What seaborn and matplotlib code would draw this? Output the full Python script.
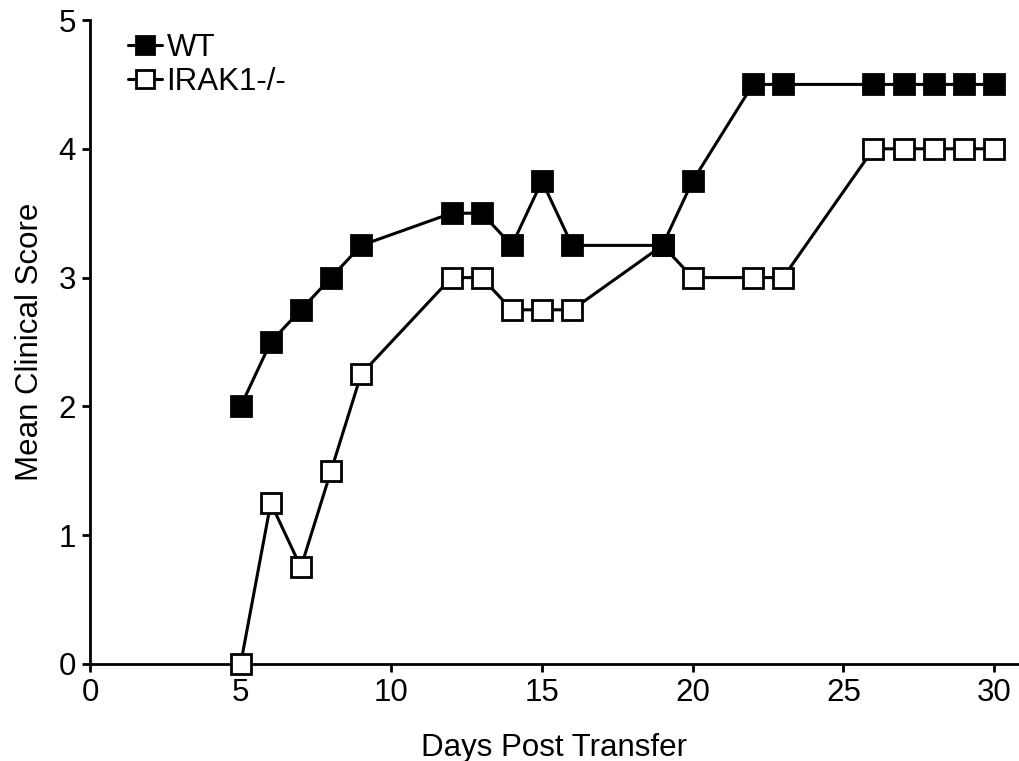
import matplotlib
matplotlib.use("Agg")
import matplotlib.pyplot as plt
import seaborn as sns
import pandas as pd

days = [5, 6, 7, 8, 9, 12, 13, 14, 15, 16, 19, 20, 22, 23, 26, 27, 28, 29, 30]
wt_score = [2.0, 2.5, 2.75, 3.0, 3.25, 3.5, 3.5, 3.25, 3.75, 3.25, 3.25, 3.75,
            4.5, 4.5, 4.5, 4.5, 4.5, 4.5, 4.5]
irak1_score = [0.0, 1.25, 0.75, 1.5, 2.25, 3.0, 3.0, 2.75, 2.75, 2.75, 3.25, 3.0,
               3.0, 3.0, 4.0, 4.0, 4.0, 4.0, 4.0]
groups = ["WT", "IRAK1-/-"]
x_ticks = [0, 5, 10, 15, 20, 25, 30]
y_ticks = [0, 1, 2, 3, 4, 5]

df = pd.DataFrame({
    "Day": days * 2,
    "Score": wt_score + irak1_score,
    "Group": [groups[0]] * len(days) + [groups[1]] * len(days),
})

sns.set_style("ticks")
plt.rcParams["font.family"] = ["Liberation Sans", "DejaVu Sans"]
plt.rcParams["text.color"] = "black"
plt.rcParams["axes.labelcolor"] = "black"

FS = 22.5

fig = plt.figure(figsize=(10.19, 7.61), dpi=100)
ax = fig.add_axes([0.0883, 0.1275, 0.9117, 0.8462])

# IRAK1-/- first so WT markers sit on top where series meet
styles = {
    "IRAK1-/-": dict(markerfacecolor="white"),
    "WT": dict(markerfacecolor="black"),
}
for g in ["IRAK1-/-", "WT"]:
    sub = df[df["Group"] == g]
    sns.lineplot(data=sub, x="Day", y="Score", ax=ax, color="black",
                 linewidth=2.2, marker="s", markersize=15,
                 markeredgecolor="black", markeredgewidth=2.0,
                 label=g, zorder=3, clip_on=False, **styles[g])

ax.set_xlim(0, 30.83)
ax.set_ylim(0, 5)
ax.set_xticks(x_ticks)
ax.set_yticks(y_ticks)
ax.tick_params(axis="both", labelsize=FS, width=2, length=6, direction="out",
               color="black", labelcolor="black", pad=4)
for s in ["left", "bottom"]:
    ax.spines[s].set_linewidth(2)
    ax.spines[s].set_color("black")
sns.despine(ax=ax)
ax.set_xlabel("Days Post Transfer", fontsize=FS, labelpad=18)
ax.set_ylabel("Mean Clinical Score", fontsize=FS, labelpad=10)

handles, labels = ax.get_legend_handles_labels()
order = [labels.index("WT"), labels.index("IRAK1-/-")]
ax.legend([handles[i] for i in order], [labels[i] for i in order],
          loc="upper left", bbox_to_anchor=(0.027, 1.0), frameon=False,
          fontsize=FS, handlelength=1.1, handletextpad=0.15, labelspacing=0.15,
          borderaxespad=0, markerscale=0.85)

fig.savefig("out.png", dpi=100)
